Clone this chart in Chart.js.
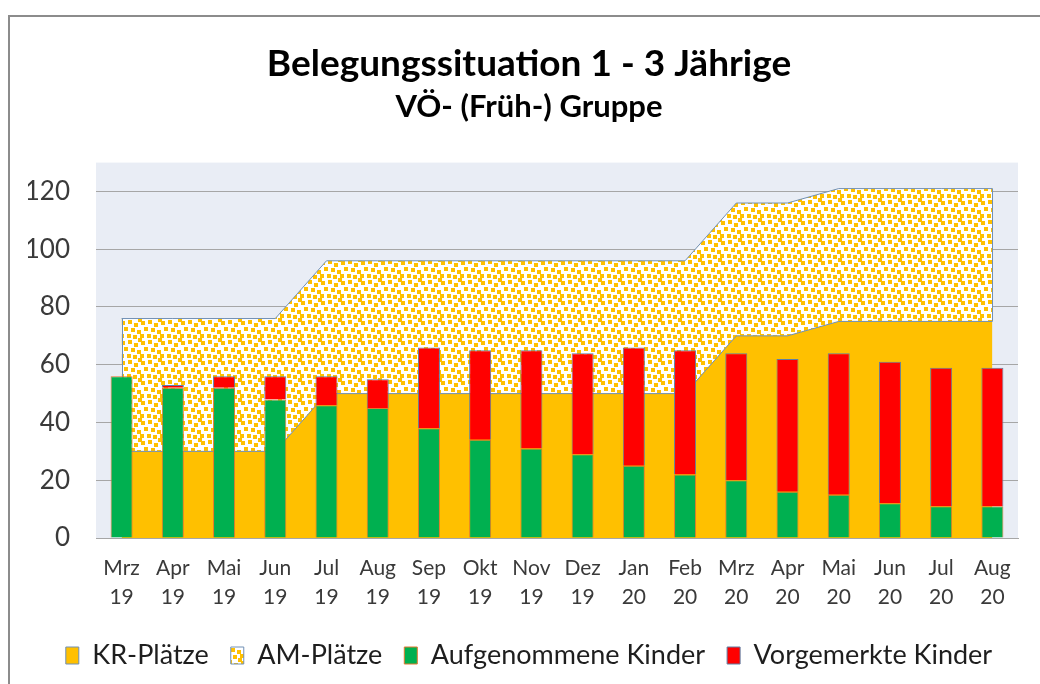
<!DOCTYPE html>
<html>
<head>
<meta charset="utf-8">
<script src="https://cdn.jsdelivr.net/npm/chart.js@4.4.1/dist/chart.umd.min.js"></script>
<style>
  body { margin: 0; background: #fff; }
  #wrap { position: relative; width: 1040px; height: 684px; overflow: hidden; }
  #rahmen { position: absolute; left: 8px; top: 15px; width: 1200px; height: 800px;
            border-left: 2px solid #8c8c8c; border-top: 2px solid #8c8c8c; }
  canvas { position: absolute; left: 0; top: 0; }
</style>
</head>
<body>
<div id="wrap">
  <div id="rahmen"></div>
  <canvas id="chart" width="1040" height="684"></canvas>
</div>
<script>
// Daten
const monate = [['Mrz','19'],['Apr','19'],['Mai','19'],['Jun','19'],['Jul','19'],['Aug','19'],
                ['Sep','19'],['Okt','19'],['Nov','19'],['Dez','19'],['Jan','20'],['Feb','20'],
                ['Mrz','20'],['Apr','20'],['Mai','20'],['Jun','20'],['Jul','20'],['Aug','20']];
const krPlaetze   = [30,30,30,30,50,50,50,50,50,50,50,50,70,70,75,75,75,75];
const amPlaetze   = [46,46,46,46,46,46,46,46,46,46,46,46,46,46,46,46,46,46];
const aufgenommen = [56,52,52,48,46,45,38,34,31,29,25,22,20,16,15,12,11,11];
const vorgemerkt  = [0,1,4,8,10,10,28,31,34,35,41,43,44,46,49,49,48,48];
const yTicks = [0,20,40,60,80,100,120];

const schrift = 'Lato, "Open Sans", sans-serif';
const randFarbe = '#7090B5';

// Punktmuster fuer AM-Plaetze
function punktMuster() {
  const c = document.createElement('canvas');
  c.width = 20; c.height = 20;
  const g = c.getContext('2d');
  g.fillStyle = '#ffffff';
  g.fillRect(0, 0, 20, 20);
  g.fillStyle = '#FFC000';
  [[1,1],[8,0],[14,3],[4,7],[11,8],[17,10],[0,14],[7,14],[13,15],[18,18]].forEach(p => {
    [0,-20].forEach(dx => [0,-20].forEach(dy => g.fillRect(p[0]+dx, p[1]+dy, 4, 4)));
  });
  return g.createPattern(c, 'repeat');
}
const muster = punktMuster();

// Hintergrund der Zeichenflaeche
const plotHintergrund = {
  id: 'plotHintergrund',
  beforeDraw(chart) {
    const a = chart.chartArea, ctx = chart.ctx;
    ctx.save();
    ctx.fillStyle = '#E9EDF5';
    ctx.fillRect(a.left, a.top, a.right - a.left, a.bottom - a.top);
    ctx.restore();
  }
};

// senkrechte Raender der AM-Flaeche (links und rechts)
const flaechenRand = {
  id: 'flaechenRand',
  afterDatasetDraw(chart, args) {
    if (args.index !== 1) return;
    const x = chart.scales.x, y = chart.scales.y, ctx = chart.ctx;
    ctx.save();
    ctx.strokeStyle = randFarbe;
    ctx.lineWidth = 1;
    [0, monate.length - 1].forEach(i => {
      const px = Math.round(x.getPixelForValue(i)) + 0.5;
      ctx.beginPath();
      ctx.moveTo(px, y.getPixelForValue(krPlaetze[i]));
      ctx.lineTo(px, y.getPixelForValue(krPlaetze[i] + amPlaetze[i]));
      ctx.stroke();
    });
    ctx.restore();
  }
};

new Chart(document.getElementById('chart'), {
  type: 'bar',
  data: {
    labels: monate,
    datasets: [
      { type: 'line', label: 'KR-Plätze', data: krPlaetze, stack: 'plaetze', order: 2,
        fill: 'origin', backgroundColor: '#FFC000', borderColor: randFarbe, borderWidth: 1,
        pointRadius: 0, tension: 0 },
      { type: 'line', label: 'AM-Plätze', data: amPlaetze, stack: 'plaetze', order: 2,
        fill: '-1', backgroundColor: muster, borderColor: randFarbe, borderWidth: 1,
        pointRadius: 0, tension: 0 },
      { label: 'Aufgenommene Kinder', data: aufgenommen, stack: 'kinder', order: 1,
        backgroundColor: '#00B050', borderColor: '#E2782F', borderWidth: 1,
        barPercentage: 0.43, categoryPercentage: 1 },
      { label: 'Vorgemerkte Kinder', data: vorgemerkt, stack: 'kinder', order: 1,
        backgroundColor: '#FF0000', borderColor: '#5F7FA3', borderWidth: 1,
        barPercentage: 0.43, categoryPercentage: 1 }
    ]
  },
  options: {
    responsive: false,
    animation: false,
    layout: { padding: { left: 28, right: 10, top: 0, bottom: 5 } },
    plugins: {
      title: { display: true, text: 'Belegungssituation 1 - 3 Jährige', color: '#000',
               font: { family: schrift, size: 37, weight: 'bold' }, padding: { top: 42, bottom: 2 } },
      subtitle: { display: true, text: 'VÖ- (Früh-) Gruppe', color: '#000',
                  font: { family: schrift, size: 31, weight: 'bold' }, padding: { top: 0, bottom: 37 } },
      legend: {
        position: 'bottom',
        labels: {
          font: { family: schrift, size: 27 }, color: '#1e1e1e',
          boxWidth: 13, boxHeight: 17, padding: 22,
          sort: (a, b) => a.datasetIndex - b.datasetIndex
        }
      },
      tooltip: { enabled: false }
    },
    scales: {
      x: {
        stacked: true,
        offset: true,
        grid: { display: false },
        border: { display: true, color: '#A6A6A6' },
        ticks: { color: '#3a3a3a', font: { family: schrift, size: 21, lineHeight: 1.38 },
                 padding: 8, maxRotation: 0, autoSkip: false },
        afterFit: s => { s.height = 82; }
      },
      y: {
        stacked: true,
        min: 0, max: 130,
        grid: { color: '#A6A6A6', drawTicks: false },
        border: { display: false },
        afterBuildTicks: s => { s.ticks = yTicks.map(v => ({ value: v })); },
        ticks: { color: '#3a3a3a', font: { family: schrift, size: 26 }, padding: 26 },
        afterFit: s => { s.width = 68; }
      },
      // leere rechte Achse als Abstand
      rechts: {
        position: 'right',
        display: true,
        grid: { display: false },
        border: { display: false },
        ticks: { display: false },
        afterFit: s => { s.width = 12; }
      }
    }
  },
  plugins: [plotHintergrund, flaechenRand]
});
</script>
</body>
</html>
